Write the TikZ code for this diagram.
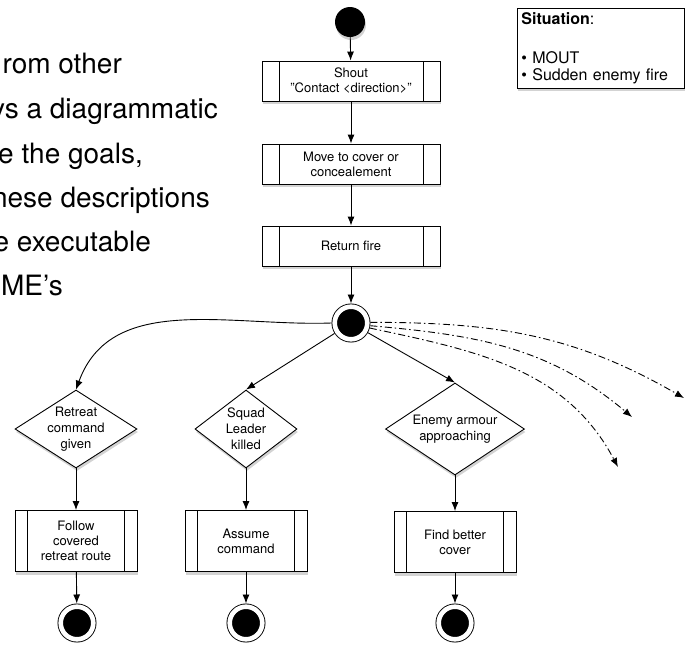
\documentclass[tikz,border=0pt]{standalone}
\usepackage{fontspec}
\setmainfont{TeX Gyre Heros}
\usetikzlibrary{shapes.geometric,arrows.meta,shadows}

\tikzset{
  flow/.style={line width=0.9pt,-{Latex[length=9pt,width=7pt]}},
  branch/.style={flow,dash pattern=on 7pt off 3pt on 1.5pt off 3pt},
  shade/.style={drop shadow={opacity=0.35,shadow xshift=1pt,shadow yshift=-3pt}},
  para/.style={inner sep=0pt,anchor=base east,font=\fontsize{28}{34}\selectfont},
  task/.style n args={3}{draw,line width=0.9pt,fill=white,shade,
    minimum width=#1,minimum height=#2,inner sep=0pt,align=center,
    font=\fontsize{13}{15}\selectfont,
    path picture={
      \draw[line width=0.9pt] ([xshift=#3]path picture bounding box.north west)
        -- ([xshift=#3]path picture bounding box.south west);
      \draw[line width=0.9pt] ([xshift=-#3]path picture bounding box.north east)
        -- ([xshift=-#3]path picture bounding box.south east);}},
  choice/.style n args={3}{diamond,draw,line width=0.9pt,fill=white,shade,
    minimum width=#1,minimum height=#2,shape aspect=#3,inner sep=-2pt,
    align=center,font=\fontsize{13}{16}\selectfont},
  bullseye/.style={circle,fill=black,draw,line width=0.9pt,double=white,
    double distance=4.6pt,minimum size=32.6pt,inner sep=0pt,outer sep=3.2pt,shade}
}

\begin{document}
\begin{tikzpicture}[x=1pt,y=1pt]
  \useasboundingbox (0,0) rectangle (686,-651);

  \node[para] (ln1) at (122,-73) {rom other};
  \node[para] (ln2) at (218,-118) {ys a diagrammatic};
  \node[para] (ln3) at (143,-163) {e the goals,};
  \node[para] (ln4) at (210,-207) {hese descriptions};
  \node[para] (ln5) at (151,-251) {e executable};
  \node[para] (ln6) at (63,-295) {SME's};

  \node[draw,line width=0.9pt,fill=white,shade,anchor=north west,
        text width=159pt,inner sep=4pt,align=left,
        font=\fontsize{16}{17.5}\selectfont] (sit) at (517,-8)
        {\textbf{Situation}:\\[21.5pt] • MOUT\\ • Sudden enemy fire};

  \node[circle,fill=black,minimum size=30pt,inner sep=0pt,shade] (start) at (350,-22) {};
  \node[task={178pt}{40pt}{17pt}] (shout) at (351,-81) {Shout\\"Contact <direction>"};
  \node[task={178pt}{40pt}{17pt}] (cover) at (351,-164) {Move to cover or\\concealement};
  \node[task={178pt}{40pt}{17pt}] (fire) at (351,-246) {Return fire};
  \node[bullseye] (junc) at (351,-323) {};

  \node[choice={122pt}{78pt}{1.56}] (retreat) at (76,-429) {Retreat\\command\\given};
  \node[choice={102pt}{78pt}{1.31}] (squad) at (246,-429) {Squad\\Leader\\killed};
  \node[choice={139pt}{92pt}{1.5}] (armour) at (455,-429) {Enemy armour\\approaching};

  \node[task={122pt}{61pt}{12.5pt}] (follow) at (76,-541) {Follow\\covered\\retreat route};
  \node[task={122pt}{61pt}{12.5pt}] (assume) at (246,-541) {Assume\\command};
  \node[task={122pt}{61pt}{12.5pt}] (better) at (455,-542) {Find better\\cover};

  \node[bullseye] (endA) at (77,-623) {};
  \node[bullseye] (endB) at (246,-623) {};
  \node[bullseye] (endC) at (455,-623) {};

  \coordinate (farA) at (684,-398);
  \coordinate (farB) at (632,-417);
  \coordinate (farC) at (618,-467);

  \draw[flow] (start) -- (shout);
  \draw[flow] (shout) -- (cover);
  \draw[flow] (cover) -- (fire);
  \draw[flow] (fire) -- (junc);

  \draw[flow] (junc.west) to[out=182,in=70] (retreat.north);
  \draw[flow] (junc) -- (squad.north);
  \draw[flow] (junc) -- (armour.north);
  \draw[branch] (junc.2) to[out=0,in=150] (farA);
  \draw[branch] (junc.-8) to[out=-5,in=140] (farB);
  \draw[branch] (junc.-15) to[out=-12,in=118] (farC);

  \draw[flow] (retreat) -- (follow);
  \draw[flow] (squad) -- (assume);
  \draw[flow] (armour) -- (better);
  \draw[flow] (follow) -- (endA);
  \draw[flow] (assume) -- (endB);
  \draw[flow] (better) -- (endC);
\end{tikzpicture}
\end{document}
